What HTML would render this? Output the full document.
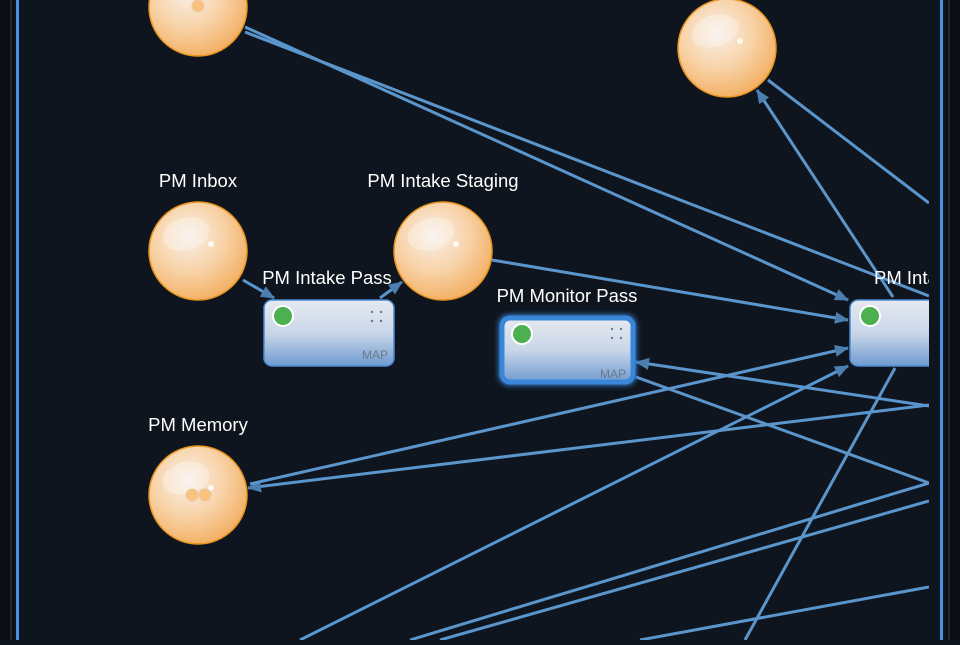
<!DOCTYPE html><html><head><style>
body{margin:0;width:960px;height:640px;overflow:hidden;background:#0f151e;font-family:"Liberation Sans",sans-serif}
</style></head><body>
<svg width="960" height="640" viewBox="0 0 960 640" xmlns="http://www.w3.org/2000/svg">
<defs>
<radialGradient id="ball" cx="0.4" cy="0.35" r="0.7">
<stop offset="0" stop-color="#f7efe8"/><stop offset="0.5" stop-color="#f8d4aa"/><stop offset="1" stop-color="#f2ad5e"/></radialGradient>
<linearGradient id="box" x1="0" y1="0" x2="0" y2="1">
<stop offset="0" stop-color="#e6eaf0"/><stop offset="0.5" stop-color="#c9d6e8"/><stop offset="1" stop-color="#6f9bd0"/></linearGradient>
<marker id="ar" markerWidth="14" markerHeight="12" refX="13" refY="6" orient="auto" markerUnits="userSpaceOnUse"><path d="M0,0 L14,6 L0,12 z" fill="#4a7fb0"/></marker>
<clipPath id="c"><rect x="20" y="0" width="909" height="640"/></clipPath>
<filter id="glow"><feGaussianBlur stdDeviation="3"/></filter>
</defs>
<rect x="0" y="0" width="14" height="640" fill="#0b0f15"/>
<rect x="10" y="0" width="2" height="640" fill="#1f2a38"/>
<rect x="16" y="0" width="3" height="640" fill="#4a90e2"/>
<rect x="940" y="0" width="3" height="640" fill="#4a90e2"/>
<rect x="946" y="0" width="14" height="640" fill="#0b0f15"/>
<rect x="948" y="0" width="2" height="640" fill="#1f2a38"/>
<g clip-path="url(#c)" stroke="#5a95cc" stroke-width="3" fill="none">
<line x1="245" y1="27" x2="848" y2="300" marker-end="url(#ar)"/>
<line x1="245" y1="32" x2="929" y2="296"/>
<line x1="492" y1="260" x2="848" y2="320" marker-end="url(#ar)"/>
<line x1="768" y1="80" x2="929" y2="203"/>
<line x1="893" y1="297" x2="757" y2="90" marker-end="url(#ar)"/>
<line x1="929" y1="405" x2="248" y2="488" marker-end="url(#ar)"/>
<line x1="250" y1="484" x2="848" y2="348" marker-end="url(#ar)"/>
<line x1="929" y1="406" x2="636" y2="362" marker-end="url(#ar)"/>
<line x1="636" y1="377" x2="929" y2="483"/>
<line x1="300" y1="640" x2="848" y2="366" marker-end="url(#ar)"/>
<line x1="895" y1="368" x2="745" y2="640"/>
<line x1="410" y1="640" x2="929" y2="483"/>
<line x1="440" y1="640" x2="929" y2="501"/>
<line x1="640" y1="640" x2="929" y2="587"/>
<line x1="243" y1="280" x2="274" y2="298" marker-end="url(#ar)"/>
<line x1="380" y1="298" x2="402" y2="282" marker-end="url(#ar)"/>
</g>
<g stroke="#e8951e" stroke-width="1.5" fill="url(#ball)">
<circle cx="198" cy="7" r="49"/><circle cx="727" cy="48" r="49"/>
<circle cx="198" cy="251" r="49"/><circle cx="443" cy="251" r="49"/><circle cx="198" cy="495" r="49"/>
</g>
<g fill="#fff" opacity="0.3">
<ellipse cx="186" cy="234" rx="24" ry="16" transform="rotate(-15 186 234)"/>
<ellipse cx="431" cy="234" rx="24" ry="16" transform="rotate(-15 431 234)"/>
<ellipse cx="186" cy="478" rx="24" ry="16" transform="rotate(-15 186 478)"/>
<ellipse cx="715" cy="31" rx="24" ry="16" transform="rotate(-15 715 31)"/>
</g>
<g fill="#fff" opacity="0.8"><circle cx="211" cy="244" r="3"/><circle cx="456" cy="244" r="3"/><circle cx="740" cy="41" r="3"/><circle cx="211" cy="488" r="3"/></g>
<g fill="#f9c27e" stroke="#e8c9a0"><circle cx="198" cy="6" r="6"/><circle cx="192" cy="495" r="6"/><circle cx="205" cy="495" r="6"/></g>
<g fill="#fff" font-size="18.5">
<text x="198" y="187" text-anchor="middle">PM Inbox</text>
<text x="443" y="187" text-anchor="middle">PM Intake Staging</text>
<text x="327" y="284" text-anchor="middle">PM Intake Pass</text>
<text x="567" y="302" text-anchor="middle">PM Monitor Pass</text>
<text x="198" y="431" text-anchor="middle">PM Memory</text>
</g>
<rect x="264" y="300" width="130" height="66" rx="8" fill="url(#box)" stroke="#4a8ad4" stroke-width="1.5"/>
<circle cx="283" cy="316" r="10" fill="#4caf50" stroke="#fff" stroke-width="2"/>
<g fill="#6b7a8c"><circle cx="372" cy="312" r="1.2"/><circle cx="381" cy="312" r="1.2"/><circle cx="372" cy="321" r="1.2"/><circle cx="381" cy="321" r="1.2"/></g>
<text x="388" y="359" text-anchor="end" font-size="12" fill="#6b7a8c">MAP</text>
<rect x="499" y="315" width="137" height="70" rx="10" fill="#3a8ee6" filter="url(#glow)"/>
<rect x="502" y="318" width="131" height="64" rx="8" fill="url(#box)" stroke="#3a86d8" stroke-width="5"/>
<circle cx="522" cy="334" r="10" fill="#4caf50" stroke="#fff" stroke-width="2"/>
<g fill="#6b7a8c"><circle cx="612" cy="329" r="1.2"/><circle cx="621" cy="329" r="1.2"/><circle cx="612" cy="338" r="1.2"/><circle cx="621" cy="338" r="1.2"/></g>
<text x="626" y="378" text-anchor="end" font-size="12" fill="#6b7a8c">MAP</text>
<g clip-path="url(#c)">
<rect x="850" y="300" width="130" height="66" rx="8" fill="url(#box)" stroke="#4a8ad4" stroke-width="1.5"/>
<circle cx="870" cy="316" r="10" fill="#4caf50" stroke="#fff" stroke-width="2"/>
<text x="874" y="284" font-size="18.5" fill="#fff">PM Intake</text>
</g>
</svg>
</body></html>
